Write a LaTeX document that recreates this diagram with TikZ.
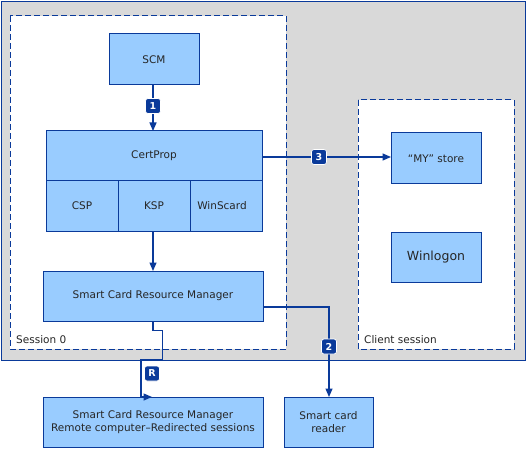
\documentclass[tikz,border=0pt]{standalone}
\usepackage{fontspec}
\setmainfont{DejaVu Sans}
\usetikzlibrary{arrows.meta}
\definecolor{bfill}{HTML}{99CCFF}
\definecolor{bline}{HTML}{0A3A9A}
\definecolor{gbg}{HTML}{D9D9D9}
\tikzset{
  box/.style={draw=bline, fill=bfill, line width=1pt},
  lbl/.style={font=\fontsize{10.5}{12.5}\selectfont, text=black!85, align=center},
  conn/.style={draw=bline, line width=1.3pt},
  arr/.style={conn, -{Triangle[length=8.5pt,width=7pt]}},
  badge/.style={fill=bline, draw=white, line width=0.7pt, rounded corners=2.5pt, minimum width=15pt, minimum height=15pt, inner sep=0pt, text=white, font=\fontsize{9.5}{9.5}\selectfont\bfseries},
  sess/.style={draw=bline, fill=white, line width=1pt, dash pattern=on 6pt off 3pt},
}
\begin{document}
\begin{tikzpicture}[x=1pt,y=-1pt]
\useasboundingbox (0,0) rectangle (527,449);
% gray outer
\draw[fill=gbg, draw=bline, line width=1pt] (1.5,1.5) rectangle (525.5,360.5);
% sessions
\draw[sess] (10,16) rectangle (286,349);
\draw[sess] (358,100) rectangle (514,349);
\node[lbl, anchor=base west, inner sep=0pt] (s0) at (16,343) {Session 0};
\node[lbl, anchor=base west, inner sep=0pt] (cs) at (364,343) {Client session};
% boxes
\draw[box] (109,34) rectangle (199,85);
\node[lbl] (scm) at (154,59.5) {SCM};
\coordinate (scmb) at (153,85);
\draw[box] (46,131) rectangle (262,181);
\draw[box] (46,181) rectangle (118,231);
\draw[box] (118,181) rectangle (190,231);
\draw[box] (190,181) rectangle (262,231);
\node[lbl] (cert) at (154,156) {CertProp};
\node[lbl] (csp) at (82,206) {CSP};
\node[lbl] (ksp) at (154,206) {KSP};
\node[lbl] (wsc) at (222,206) {WinScard};
\coordinate (certt) at (153,131);
\coordinate (certr) at (262,157);
\coordinate (kspb) at (153,231);
\draw[box] (43,271) rectangle (263,321);
\node[lbl] (scrm) at (153,296) {Smart Card Resource Manager};
\coordinate (scrmt) at (153,271);
\coordinate (scrmr) at (263,307);
\coordinate (scrmb) at (153,321);
\draw[box] (391,133) rectangle (481,184);
\node[lbl] (my) at (436,158.5) {“MY” store};
\coordinate (myl) at (391,157);
\draw[box] (391,232) rectangle (481,282);
\node[lbl, font=\fontsize{12.5}{14}\selectfont] (win) at (436,257) {Winlogon};
\draw[box] (43,397) rectangle (263,447);
\node[lbl] (rem) at (153,422) {Smart Card Resource Manager\\Remote computer–Redirected sessions};
\coordinate (remt) at (152,397);
\draw[box] (284,397) rectangle (373,447);
\node[lbl] (rdr) at (328.5,422) {Smart card\\reader};
\coordinate (rdrt) at (329,397);
% connectors
\draw[arr] (scmb) -- (certt);
\node[badge] (b1) at (153,106) {1};
\draw[arr] (kspb) -- (scrmt);
\draw[arr] (certr) -- (myl);
\node[badge] (b3) at (319,157) {3};
\draw[arr] (scrmr) -| (rdrt);
\node[badge] (b2) at (329,346.5) {2};
\draw[arr] (scrmb) -- (153,330.5) -- (162.5,330.5) -- (162.5,360) -- (141,360) -- (141,397) -- (remt);
\node[badge] (bR) at (152,373.5) {R};
\end{tikzpicture}
\end{document}
